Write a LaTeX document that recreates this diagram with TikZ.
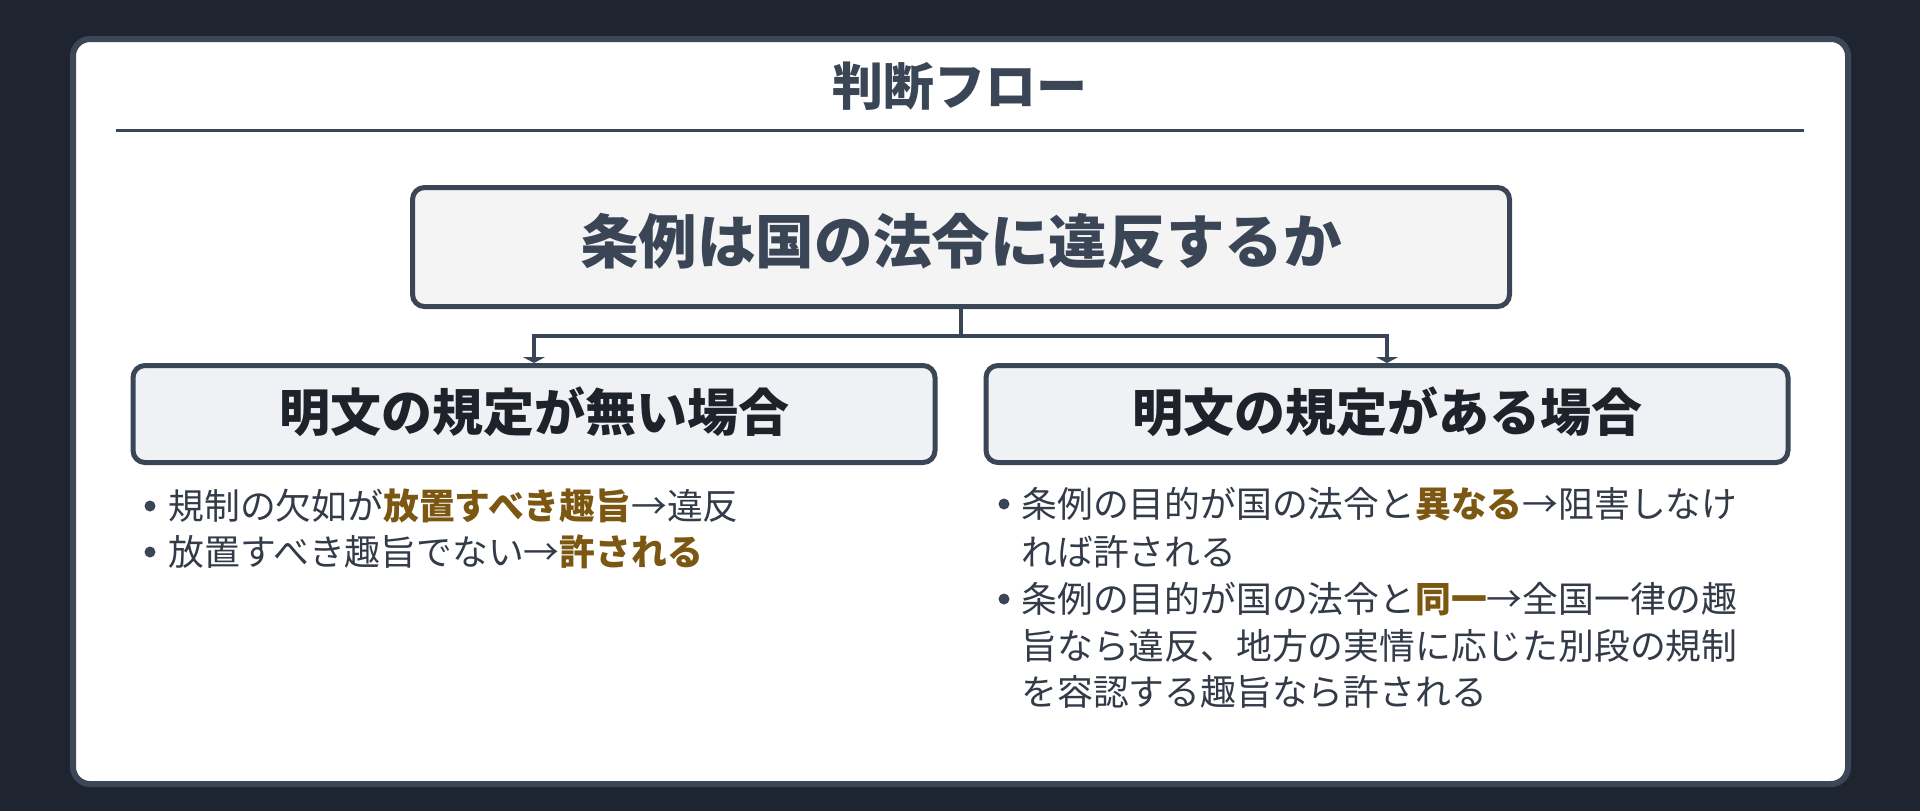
\documentclass[tikz,border=0pt]{standalone}
\usepackage{fontspec}
\setmainfont{Noto Sans CJK JP}
\usetikzlibrary{arrows.meta}
\definecolor{bg}{HTML}{1E2530}
\definecolor{cardborder}{HTML}{3C4657}
\definecolor{ink}{HTML}{3A4556}
\definecolor{dark}{HTML}{1E232B}
\definecolor{body}{HTML}{333B48}
\definecolor{hl}{HTML}{7B5712}
\definecolor{topfill}{HTML}{F4F4F5}
\definecolor{subfill}{HTML}{EFF1F5}
\newcommand\hlt[1]{{\bfseries\color{hl}#1}}
\begin{document}
\begin{tikzpicture}[x=0.5pt,y=-0.5pt,
  card/.style={draw=cardborder,fill=white,line width=3pt,rounded corners=8.5pt,
    minimum width=887.5pt,minimum height=372.5pt,inner sep=0pt},
  topbox/.style={draw=ink,fill=topfill,line width=2.5pt,rounded corners=6pt,
    minimum width=548.5pt,minimum height=59.5pt,inner sep=0pt},
  subbox/.style={draw=ink,fill=subfill,line width=2.5pt,rounded corners=6pt,
    minimum width=401pt,minimum height=48.5pt,inner sep=0pt},
  titletext/.style={text=ink,font=\fontsize{25.5pt}{30pt}\selectfont\bfseries,inner sep=0pt},
  maintext/.style={text=ink,font=\fontsize{29.3pt}{34pt}\selectfont\bfseries,inner sep=0pt},
  subtext/.style={text=dark,font=\fontsize{25.5pt}{30pt}\selectfont\bfseries,inner sep=0pt},
  bodytext/.style={text=body,font=\fontsize{17.9pt}{22pt}\selectfont,inner sep=0pt,anchor=west},
  dot/.style={circle,fill=ink,inner sep=0pt,minimum size=5.5pt},
  rulel/.style={draw=ink,line width=1.5pt},
  conn/.style={draw=ink,line width=2pt},
  tip/.style={-{Triangle[width=11pt,length=3pt]}}
]
\fill[bg] (0,0) rectangle (1920,811);
\useasboundingbox (0,0) rectangle (1920,811);

\node[card] (card) at (960.5,411.5) {};
\node[titletext] (title) at (960,86) {判断フロー};
\coordinate (rl) at (116,130);
\coordinate (rr) at (1804,130);
\draw[rulel] (rl) -- (rr);

\node[topbox] (top) at (961,247) {};
\node[maintext] (toplbl) at (961,241) {条例は国の法令に違反するか};

\node[subbox] (left) at (534,414) {};
\node[subtext] (leftlbl) at (534,412) {明文の規定が無い場合};
\node[subbox] (right) at (1387,414) {};
\node[subtext] (rightlbl) at (1387,412) {明文の規定がある場合};

\coordinate (j) at (961,336);
\draw[conn] (top.south) -- (j);
\draw[conn,tip] (j) -| (left.north);
\draw[conn,tip] (j) -| (right.north);

% left bullets
\node[dot] (ld1) at (150,506) {};
\node[bodytext] (l1) at (168,506) {規制の欠如が\hlt{放置すべき趣旨}→違反};
\node[dot] (ld2) at (150,552) {};
\node[bodytext] (l2) at (168,552) {放置すべき趣旨でない→\hlt{許される}};

% right bullets
\node[dot] (rd1) at (1004,504) {};
\node[bodytext] (r1a) at (1021,504) {条例の目的が国の法令と\hlt{異なる}→阻害しなけ};
\node[bodytext] (r1b) at (1021,552) {れば許される};
\node[dot] (rd2) at (1004,599) {};
\node[bodytext] (r2a) at (1021,599) {条例の目的が国の法令と\hlt{同一}→全国一律の趣};
\node[bodytext] (r2b) at (1021,646) {旨なら違反、地方の実情に応じた別段の規制};
\node[bodytext] (r2c) at (1021,692) {を容認する趣旨なら許される};
\end{tikzpicture}
\end{document}
